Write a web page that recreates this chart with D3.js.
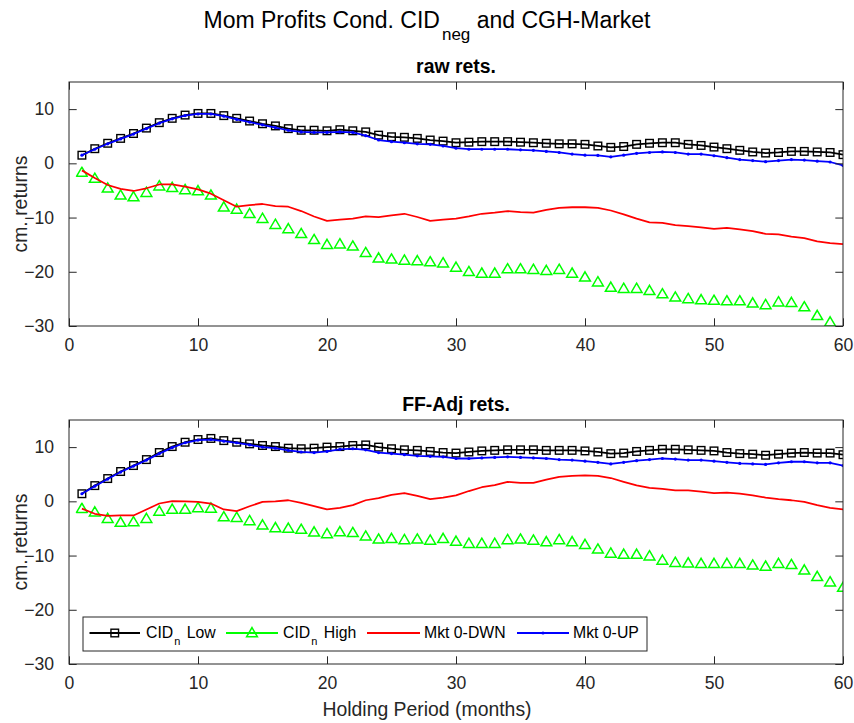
<!DOCTYPE html>
<html>
<head>
<meta charset="utf-8">
<script src="https://cdn.jsdelivr.net/npm/d3@7"></script>
<style>
  html, body { margin: 0; padding: 0; background: #fff; }
  svg { display: block; }
  text { font-family: "Liberation Sans", Arial, Helvetica, sans-serif; }
</style>
</head>
<body>
<svg id="chart" width="854" height="723"></svg>
<script>
// ---------- data ----------
const months = d3.range(1, 61);
const xTicks = [0, 10, 20, 30, 40, 50, 60];
const yTicks = [-30, -20, -10, 0, 10];

// raw rets.
const rawLow  = [1.5,2.7,3.7,4.6,5.5,6.5,7.5,8.3,8.9,9.2, 9.2,8.8,8.3,7.8,7.3,6.9,6.4,6.1,6.1,6.0, 6.2,6.0,5.8,5.2,4.9,4.8,4.6,4.3,4.1,3.8, 3.9,4.0,4.0,4.0,3.9,3.8,3.7,3.6,3.6,3.5, 3.2,2.95,3.1,3.5,3.7,3.8,3.8,3.5,3.3,3.0, 2.7,2.4,2.1,1.9,2.0,2.2,2.2,2.1,2.0,1.6];
const rawHigh = [-1.7,-2.8,-4.6,-5.9,-6.2,-5.4,-4.2,-4.5,-4.9,-5.1, -5.9,-8.1,-8.5,-9.3,-10.2,-11.3,-12.1,-13.0,-14.1,-15.0, -14.9,-15.3,-16.5,-17.5,-17.7,-17.9,-18.0,-18.2,-18.4,-19.2, -20.0,-20.3,-20.3,-19.5,-19.5,-19.6,-19.8,-19.6,-20.3,-21.0, -21.9,-22.9,-23.1,-23.1,-23.5,-24.1,-24.7,-25.0,-25.2,-25.3, -25.4,-25.4,-25.8,-26.1,-25.6,-25.7,-26.5,-28.1,-29.3,-31.0];
const rawDwn  = [-1.3,-2.7,-4.0,-4.7,-5.1,-4.6,-3.9,-3.9,-4.3,-4.8, -5.6,-6.8,-8.0,-7.7,-7.5,-7.9,-8.0,-8.8,-9.8,-10.6, -10.4,-10.2,-9.8,-9.9,-9.6,-9.3,-9.9,-10.6,-10.4,-10.2, -9.8,-9.3,-9.1,-8.8,-9.0,-9.1,-8.6,-8.2,-8.1,-8.1, -8.2,-8.7,-9.4,-10.2,-10.9,-11.0,-11.4,-11.6,-11.8,-12.1, -11.9,-12.2,-12.5,-13.0,-13.1,-13.5,-13.8,-14.4,-14.7,-14.9];
const rawUp   = [1.5,2.6,3.6,4.5,5.4,6.4,7.4,8.2,8.8,9.1, 9.1,8.7,8.1,7.6,7.1,6.6,6.1,5.8,5.7,5.7, 5.8,5.7,5.1,4.3,4.0,3.8,3.6,3.5,3.2,2.8, 2.6,2.6,2.6,2.6,2.5,2.4,2.2,2.0,1.7,1.5, 1.45,1.2,1.5,1.85,2.0,2.1,2.0,1.7,1.7,1.4, 1.05,0.7,0.5,0.3,0.5,0.7,0.6,0.4,0.25,-0.4];

// FF-Adj rets.
const adjLow  = [1.4,2.9,4.2,5.5,6.6,7.7,9.0,10.1,10.9,11.4, 11.6,11.2,10.9,10.6,10.3,10.1,9.8,9.7,9.8,10.0, 10.1,10.3,10.4,10.0,9.7,9.5,9.4,9.2,9.0,8.9, 9.1,9.3,9.4,9.5,9.5,9.5,9.4,9.4,9.4,9.3, 9.1,8.8,8.9,9.2,9.4,9.6,9.6,9.5,9.4,9.3, 9.0,8.8,8.7,8.5,8.7,8.9,9.0,8.9,8.9,8.6];
const adjHigh = [-1.35,-2.0,-3.2,-3.9,-3.8,-3.2,-1.85,-1.5,-1.5,-1.2, -1.3,-2.9,-3.0,-3.6,-4.4,-4.9,-5.0,-5.2,-5.7,-6.0, -5.65,-5.8,-6.45,-7.0,-6.9,-7.1,-7.0,-7.2,-6.9,-7.4, -7.8,-7.8,-7.8,-7.1,-7.0,-7.2,-7.5,-7.1,-7.5,-8.0, -8.85,-9.6,-9.8,-9.8,-10.1,-10.9,-11.3,-11.4,-11.5,-11.5, -11.5,-11.5,-11.8,-12.0,-11.5,-11.7,-12.7,-13.9,-14.9,-15.9];
const adjDwn  = [-1.35,-2.3,-2.7,-2.6,-2.6,-1.5,-0.4,0.05,0.0,-0.1, -0.4,-1.5,-1.8,-0.9,-0.1,0.0,0.2,-0.3,-0.9,-1.5, -1.2,-0.7,0.2,0.6,1.2,1.5,1.0,0.4,0.7,1.1, 1.9,2.6,3.0,3.6,3.4,3.4,4.0,4.5,4.7,4.8, 4.7,4.3,3.6,2.95,2.5,2.3,2.0,2.0,1.8,1.5, 1.6,1.4,1.1,0.7,0.4,0.2,-0.1,-0.7,-1.2,-1.5];
const adjUp   = [1.4,2.8,4.1,5.4,6.5,7.6,8.8,9.9,10.8,11.3, 11.4,11.1,10.8,10.4,10.0,9.8,9.4,9.1,9.0,9.2, 9.6,9.7,9.5,9.0,8.8,8.6,8.4,8.3,8.2,7.9, 7.9,8.0,8.1,8.2,8.1,8.0,7.9,7.7,7.6,7.4, 7.2,6.9,7.2,7.5,7.7,7.9,7.8,7.6,7.6,7.4, 7.2,7.0,6.9,6.8,7.1,7.3,7.3,7.1,7.1,6.6];

const seriesNames = ["CID_n Low", "CID_n High", "Mkt 0-DWN", "Mkt 0-UP"];
const seriesColors = ["#000000", "#00ff00", "#ff0000", "#0000ff"];
const panelTitles = ["raw rets.", "FF-Adj rets."];
const panelData = [[rawLow, rawHigh, rawDwn, rawUp], [adjLow, adjHigh, adjDwn, adjUp]];

// ---------- layout ----------
const svg = d3.select("#chart");
const axColor = "#262626";
const L = 69, R = 843;
const panels = [{top: 82, bottom: 326}, {top: 420, bottom: 664}];
const tickFont = 17.6, labelFont = 19.4;

const x = d3.scaleLinear().domain([0, 60]).range([L, R]);

// main title
const title = svg.append("text").attr("x", 427).attr("y", 28)
  .attr("text-anchor", "middle").attr("font-size", 23).attr("fill", "#000");
title.append("tspan").text("Mom Profits Cond. CID");
title.append("tspan").attr("font-size", 17).attr("dx", 2).attr("dy", 12).text("neg");
title.append("tspan").attr("dy", -12).text(" and CGH-Market");

function markerSquare(g, pts, color) {
  g.selectAll("rect").data(pts).join("rect")
    .attr("x", d => d[0] - 3.8).attr("y", d => d[1] - 3.8)
    .attr("width", 7.6).attr("height", 7.6)
    .attr("fill", "none").attr("stroke", color).attr("stroke-width", 1.4);
}
function markerTri(g, pts, color) {
  g.selectAll("path").data(pts).join("path")
    .attr("d", d => `M${d[0]},${d[1] - 5.4}L${d[0] + 5.4},${d[1] + 3.8}L${d[0] - 5.4},${d[1] + 3.8}Z`)
    .attr("fill", "none").attr("stroke", color).attr("stroke-width", 1.5);
}
function markerDot(g, pts, color) {
  g.selectAll("circle").data(pts).join("circle")
    .attr("cx", d => d[0]).attr("cy", d => d[1]).attr("r", 1.6)
    .attr("fill", color);
}

panels.forEach((p, pi) => {
  const y = d3.scaleLinear().domain([-30, 15]).range([p.bottom, p.top]);
  const g = svg.append("g");
  const clipId = "clip" + pi;
  svg.append("clipPath").attr("id", clipId).append("rect")
    .attr("x", L).attr("y", p.top).attr("width", R - L).attr("height", p.bottom - p.top);

  g.append("rect").attr("x", L).attr("y", p.top).attr("width", R - L).attr("height", p.bottom - p.top)
    .attr("fill", "#fff").attr("stroke", "none");

  const plot = g.append("g").attr("clip-path", `url(#${clipId})`);
  const line = d3.line().x((d, i) => x(months[i])).y(d => y(d));
  panelData[pi].forEach((vals, si) => {
    const sg = plot.append("g");
    sg.append("path").datum(vals).attr("d", line)
      .attr("fill", "none").attr("stroke", seriesColors[si]).attr("stroke-width", 1.76)
      .attr("stroke-linejoin", "round");
    const pts = vals.map((v, i) => [x(months[i]), y(v)]).filter(d => d[1] <= p.bottom + 0.5);
    if (si === 0) markerSquare(sg, pts, seriesColors[si]);
    if (si === 1) markerTri(sg, pts, seriesColors[si]);
    if (si === 3) markerDot(sg, pts, seriesColors[si]);
  });

  const axB = d3.axisBottom(x).tickValues(xTicks).tickSize(-7.7).tickPadding(13).tickFormat(d3.format("d"));
  const axT = d3.axisTop(x).tickValues(xTicks).tickSize(-7.7).tickFormat("");
  const axLft = d3.axisLeft(y).tickValues(yTicks).tickSize(-7.7).tickPadding(15).tickFormat(d3.format("d"));
  const axRt = d3.axisRight(y).tickValues(yTicks).tickSize(-7.7).tickFormat("");
  const styleAx = sel => {
    sel.select(".domain").remove();
    sel.selectAll("line").attr("stroke", axColor).attr("stroke-width", 1);
    sel.selectAll("text").attr("fill", axColor).attr("font-size", tickFont)
      .attr("font-family", "Liberation Sans, Arial, Helvetica, sans-serif");
  };
  g.append("g").attr("transform", `translate(0,${p.bottom})`).call(axB).call(styleAx);
  g.append("g").attr("transform", `translate(0,${p.top})`).call(axT).call(styleAx);
  g.append("g").attr("transform", `translate(${L},0)`).call(axLft).call(styleAx);
  g.append("g").attr("transform", `translate(${R},0)`).call(axRt).call(styleAx);
  g.append("rect").attr("x", L).attr("y", p.top).attr("width", R - L).attr("height", p.bottom - p.top)
    .attr("fill", "none").attr("stroke", axColor).attr("stroke-width", 1);

  g.append("text").attr("x", (L + R) / 2).attr("y", p.top - 9)
    .attr("text-anchor", "middle").attr("font-size", labelFont).attr("font-weight", "bold")
    .attr("fill", "#000").text(panelTitles[pi]);

  g.append("text").attr("transform", `translate(27,${(p.top + p.bottom) / 2}) rotate(-90)`)
    .attr("text-anchor", "middle").attr("font-size", labelFont).attr("fill", axColor)
    .text("cm. returns");
});

// x label
svg.append("text").attr("x", 427).attr("y", 716).attr("text-anchor", "middle")
  .attr("font-size", labelFont).attr("fill", axColor).text("Holding Period (months)");

// legend
const lg = svg.append("g");
lg.append("rect").attr("x", 83).attr("y", 617).attr("width", 564).attr("height", 34)
  .attr("fill", "#fff").attr("stroke", axColor).attr("stroke-width", 1);
const legendItems = [
  {x0: 89.5, x1: 140, tx: 146},
  {x0: 226, x1: 278, tx: 283},
  {x0: 367, x1: 420, tx: 424},
  {x0: 517, x1: 569, tx: 573}
];
const ly = 633;
legendItems.forEach((it, i) => {
  const eg = lg.append("g");
  eg.append("line").attr("x1", it.x0).attr("x2", it.x1).attr("y1", ly).attr("y2", ly)
    .attr("stroke", seriesColors[i]).attr("stroke-width", 1.76);
  const cx = (it.x0 + it.x1) / 2;
  if (i === 0) markerSquare(eg, [[cx, ly]], seriesColors[i]);
  if (i === 1) markerTri(eg, [[cx, ly]], seriesColors[i]);
  if (i === 3) markerDot(eg, [[cx, ly]], seriesColors[i]);
  const t = eg.append("text").attr("x", it.tx).attr("y", 637.5).attr("font-size", 15.8).attr("fill", "#000");
  const name = seriesNames[i];
  if (name.includes("_n")) {
    const [a, b] = name.split("_n");
    t.append("tspan").text(a);
    t.append("tspan").attr("font-size", 11).attr("dx", 1).attr("dy", 7.5).text("n");
    t.append("tspan").attr("dx", 2).attr("dy", -7.5).text(b);
  } else {
    t.text(name);
  }
});
</script>
</body>
</html>
